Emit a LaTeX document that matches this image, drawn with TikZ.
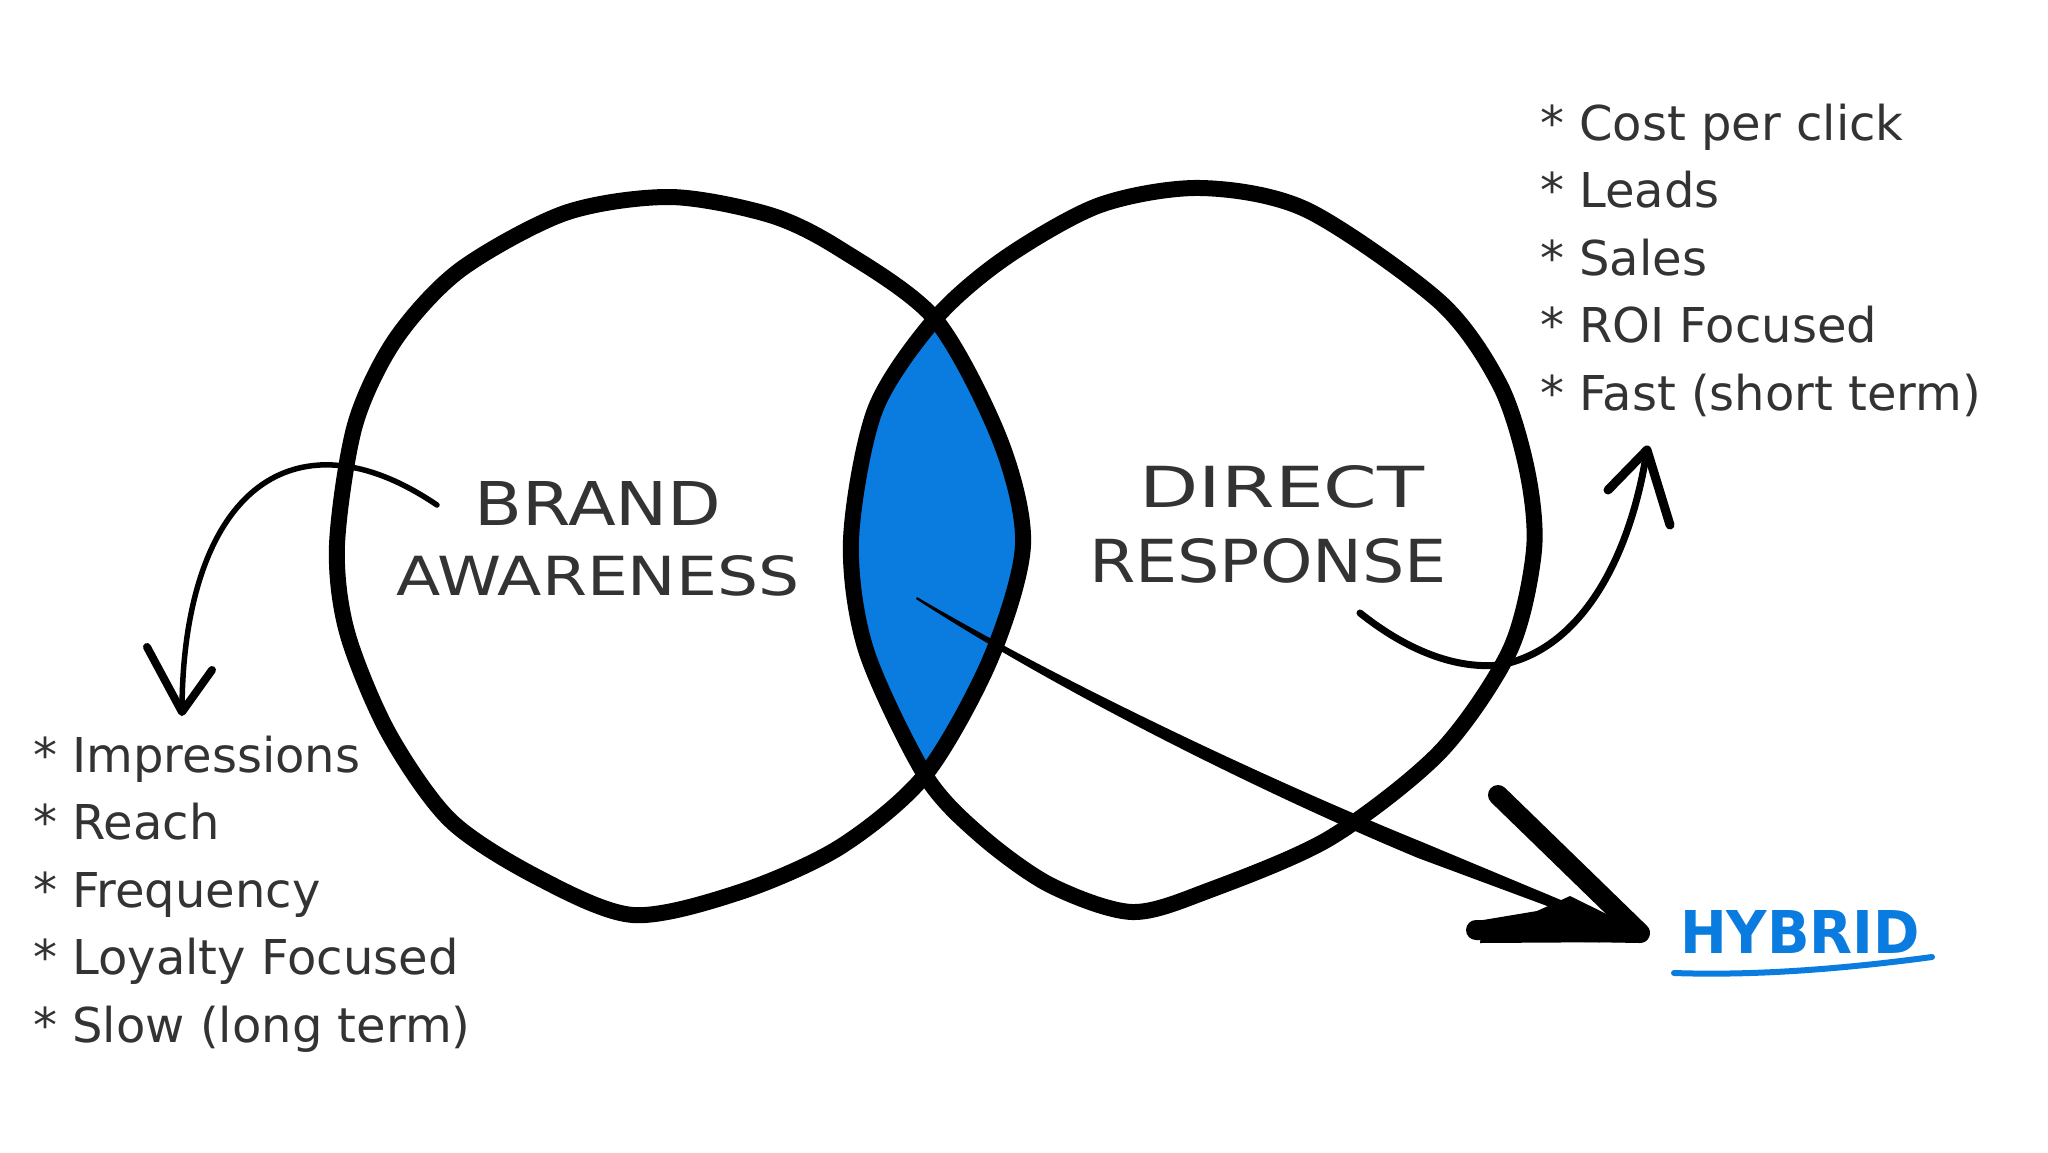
\documentclass[tikz,border=0pt]{standalone}
\usepackage{fontspec}
\setmainfont{DejaVu Sans}
\usepackage{graphicx}
\definecolor{ink}{HTML}{333333}
\definecolor{venblue}{HTML}{0A7CE0}
\begin{document}
\begin{tikzpicture}[x=1pt,y=-1pt,
  ring/.style={line width=16pt, line join=round},
  curvearrow/.style={line width=6pt, line cap=round},
  headarm/.style={line width=8pt, line cap=round, line join=round},
  listitem/.style={anchor=base west, inner sep=0pt, text=ink, font=\fontsize{48}{48}\selectfont},
  titleword/.style={anchor=base, inner sep=0pt, text=ink, font=\fontsize{60}{60}\selectfont}]
\fill[white] (0,0) rectangle (2048,1152);
\useasboundingbox (0,0) rectangle (2048,1152);

% lens fill
\begin{scope}
\clip plot[smooth cycle] coordinates {(1201,188) (1307,210) (1440,302) (1500,385) (1527,470) (1534,550) (1510,650) (1440,752) (1330,838) (1210,890) (1132,912) (1050,885) (980,835) (925,775) (866,650) (851,540) (875,410) (935,319) (1005,258) (1100,205)};
\fill[venblue] plot[smooth cycle] coordinates {(670,197) (770,215) (840,249) (935,319) (1000,440) (1023,545) (990,660) (925,775) (840,847) (740,892) (633,915) (537,877) (450,820) (388,732) (347,632) (337,545) (355,425) (395,340) (460,270) (565,213)};
\end{scope}

% circles
\draw[ring] plot[smooth cycle] coordinates {(670,197) (770,215) (840,249) (935,319) (1000,440) (1023,545) (990,660) (925,775) (840,847) (740,892) (633,915) (537,877) (450,820) (388,732) (347,632) (337,545) (355,425) (395,340) (460,270) (565,213)};
\draw[ring] plot[smooth cycle] coordinates {(1201,188) (1307,210) (1440,302) (1500,385) (1527,470) (1534,550) (1510,650) (1440,752) (1330,838) (1210,890) (1132,912) (1050,885) (980,835) (925,775) (866,650) (851,540) (875,410) (935,319) (1005,258) (1100,205)};

% titles
\node[titleword] (brand) at (598,525) {\resizebox{247pt}{44pt}{BRAND}};
\node[titleword] (awareness) at (598,595) {\resizebox{403pt}{40pt}{AWARENESS}};
\node[titleword] (direct) at (1282,507) {\resizebox{285pt}{42pt}{DIRECT}};
\node[titleword] (response) at (1268,582) {\resizebox{358pt}{44pt}{RESPONSE}};

% right list
\node[listitem] (r1) at (1540,140) {* Cost per click};
\node[listitem] (r2) at (1540,207.5) {* Leads};
\node[listitem] (r3) at (1540,275) {* Sales};
\node[listitem] (r4) at (1540,342.5) {* ROI Focused};
\node[listitem] (r5) at (1540,410) {* Fast (short term)};

% left list
\node[listitem] (l1) at (33,772) {* Impressions};
\node[listitem] (l2) at (33,839.5) {* Reach};
\node[listitem] (l3) at (33,907) {* Frequency};
\node[listitem] (l4) at (33,974.5) {* Loyalty Focused};
\node[listitem] (l5) at (33,1042) {* Slow (long term)};

% hybrid label
\node[anchor=base, inner sep=0pt, text=venblue, font=\fontsize{58}{58}\selectfont\bfseries] (hybrid) at (1800,953) {\resizebox{240pt}{43pt}{HYBRID}};
\coordinate (ul-s) at (1674,973);
\coordinate (ul-e) at (1932,957);
\draw[venblue, line width=6pt, line cap=round] (ul-s) .. controls (1760,976) and (1850,968) .. (ul-e);

% left curved arrow
\coordinate (la-s) at (437,505);
\coordinate (la-e) at (182,712);
\coordinate (lh-l) at (147,647);
\coordinate (lh-r) at (212,670);
\draw[curvearrow, line width=5.5pt] (la-s) .. controls (400,480) and (360,463) .. (320,465) .. controls (230,470) and (182,570) .. (la-e);
\draw[headarm] (lh-l) -- (la-e) -- (lh-r);

% right curved arrow
\coordinate (ra-s) at (1360,613);
\coordinate (ra-e) at (1647,450);
\coordinate (rh-l) at (1608,490);
\coordinate (rh-r) at (1670,525);
\draw[curvearrow, line width=7pt] (ra-s) .. controls (1400,645) and (1450,670) .. (1500,665) .. controls (1580,650) and (1630,560) .. (ra-e);
\draw[headarm, line width=9pt] (rh-l) -- (ra-e) -- (rh-r);

% big arrow to hybrid
\coordinate (ba-s) at (917,597);
\coordinate (ba-t) at (1640,933);
\coordinate (bh-u) at (1498,795);
\coordinate (bh-l) at (1476,930);
\fill (ba-s) .. controls (1050,675) and (1250,772) .. (1422,842) -- (ba-t) -- (1636,939) -- (1418,858) .. controls (1250,788) and (1050,686) .. (916,599) -- cycle;
\draw[line width=20pt, line cap=round, line join=round] (bh-u) -- (ba-t) -- (bh-l);
\fill (1483,920) -- (1537,911) -- (1570,896) -- (1645,933) -- (1637,942) -- (1480,943) -- cycle;
\end{tikzpicture}
\end{document}
